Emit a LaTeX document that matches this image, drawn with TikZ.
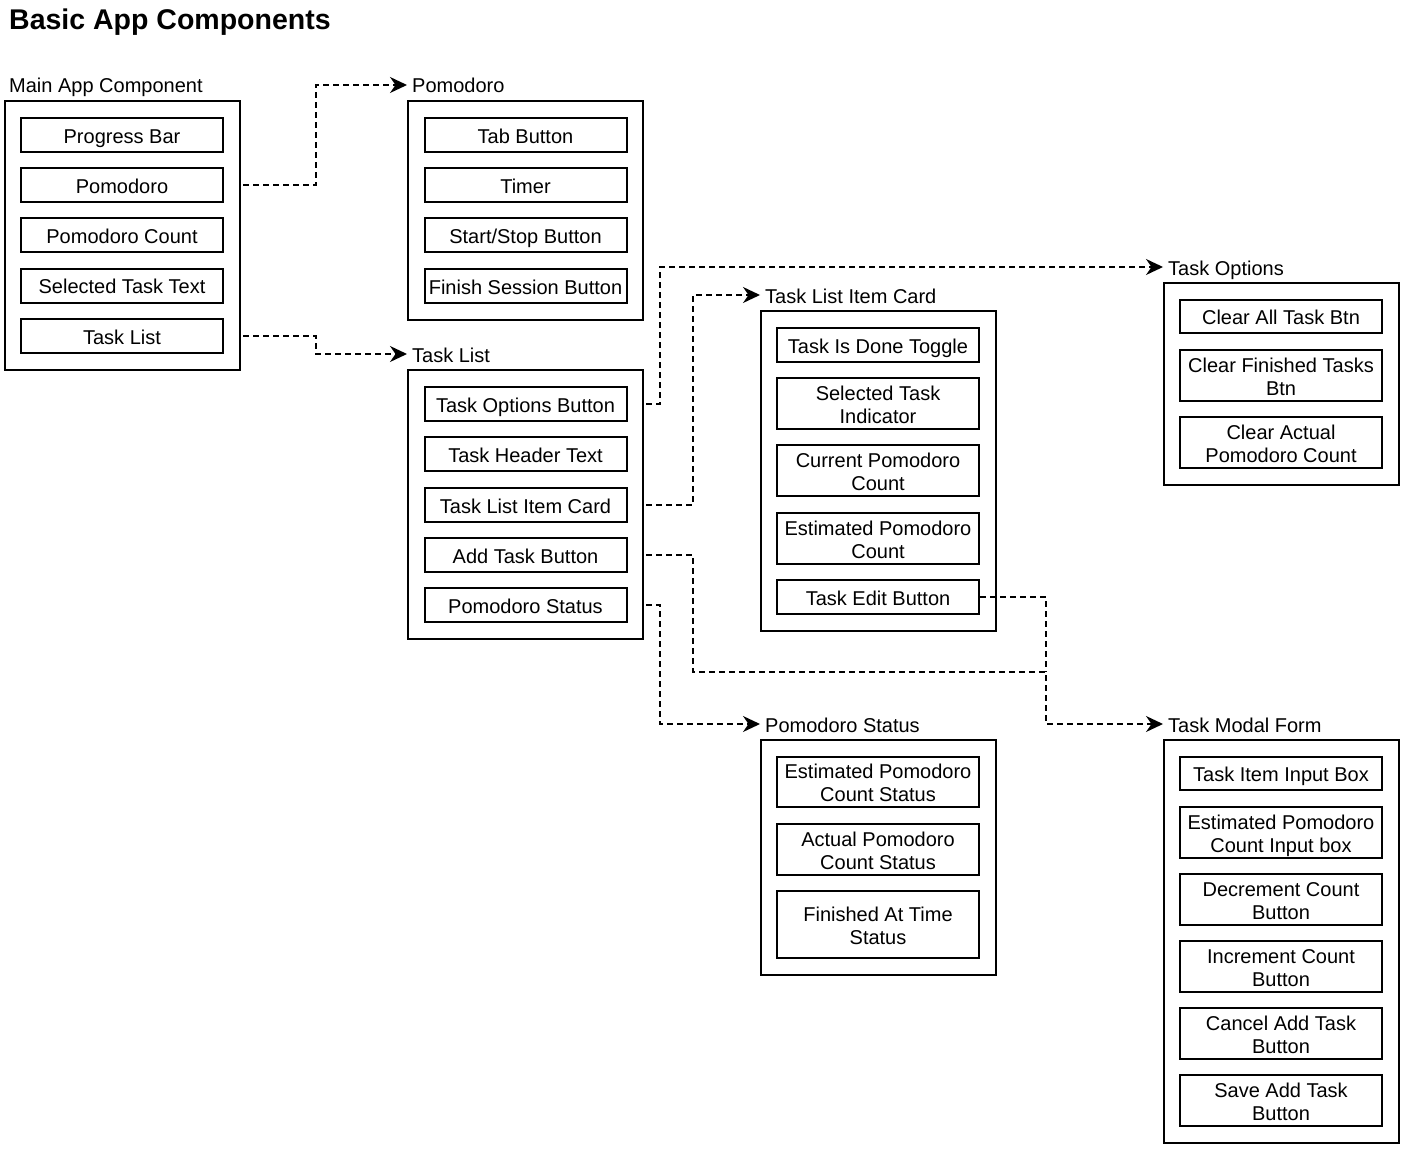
\documentclass[tikz,border=0pt]{standalone}
\usepackage{fontspec}
\setmainfont{Liberation Sans}
\usetikzlibrary{arrows.meta,calc}
% one text line with a fixed height and depth, so every box centres alike
\newcommand\tline[1]{\smash{#1}\rule[-1.5pt]{0pt}{19.5pt}}
\begin{document}
\begin{tikzpicture}[x=1pt,y=-1pt,
  every node/.style={font=\fontsize{20}{23}\selectfont},
  group/.style={draw, line width=2pt, minimum width=235pt, inner sep=0pt, outer sep=0pt},
  item/.style={draw, line width=2pt, minimum width=202pt, minimum height=34pt,
    inner sep=0pt, outer sep=0pt, align=center},
  grouplabel/.style={anchor=base west, inner sep=0pt},
  link/.style={dash pattern=on 6pt off 4pt, line width=1.5pt},
  linkarrow/.style={link, -{Stealth[length=17pt,width=16pt,inset=5.5pt]}}]
\useasboundingbox (0,0) rectangle (1407,1150);

% title
\node[anchor=base west, inner sep=0pt, font=\fontsize{28.5}{34}\selectfont\bfseries]
  (title) at (9,30) {Basic App Components};

% ---- Main App Component
\node[group, minimum height=269pt] (main) at (122.5,235.5) {};
\node[grouplabel] (mainLbl) at ($(main.north west)+(4,-8)$) {Main App Component};
\node[item] (mBar)  at (122,135)   {\tline{Progress Bar}};
\node[item] (mPom)  at (122,185)   {\tline{Pomodoro}};
\node[item] (mCnt)  at (122,235.5) {\tline{Pomodoro Count}};
\node[item] (mSel)  at (122,285.5) {\tline{Selected Task Text}};
\node[item] (mList) at (122,336)   {\tline{Task List}};

% ---- Pomodoro
\node[group, minimum height=219pt] (pom) at (525.5,210.5) {};
\node[grouplabel] (pomLbl) at ($(pom.north west)+(4,-8)$) {Pomodoro};
\node[item] (pTab)    at (525.5,135)   {\tline{Tab Button}};
\node[item] (pTimer)  at (525.5,185)   {\tline{Timer}};
\node[item] (pStart)  at (525.5,235.5) {\tline{Start/Stop Button}};
\node[item] (pFinish) at (525.5,286)   {\tline{Finish Session Button}};

% ---- Task List
\node[group, minimum height=269pt] (tl) at (525.5,504.5) {};
\node[grouplabel] (tlLbl) at ($(tl.north west)+(4,-8)$) {Task List};
\node[item] (tOpt)    at (525.5,404) {\tline{Task Options Button}};
\node[item] (tHead)   at (525.5,454) {\tline{Task Header Text}};
\node[item] (tCard)   at (525.5,505) {\tline{Task List Item Card}};
\node[item] (tAdd)    at (525.5,555) {\tline{Add Task Button}};
\node[item] (tStatus) at (525.5,605) {\tline{Pomodoro Status}};

% ---- Task List Item Card
\node[group, minimum height=320pt] (tlic) at (878.5,471) {};
\node[grouplabel] (tlicLbl) at ($(tlic.north west)+(4,-8)$) {Task List Item Card};
\node[item] (cDone) at (878,345) {\tline{Task Is Done Toggle}};
\node[item, minimum height=51pt] (cSel) at (878,403.5) {\tline{Selected Task}\\\tline{Indicator}};
\node[item, minimum height=51pt] (cCur) at (878,470.5) {\tline{Current Pomodoro}\\\tline{Count}};
\node[item, minimum height=51pt] (cEst) at (878,538.5) {\tline{Estimated Pomodoro}\\\tline{Count}};
\node[item] (tEdit) at (878,597) {\tline{Task Edit Button}};

% ---- Task Options
\node[group, minimum height=202pt] (to) at (1281.5,384) {};
\node[grouplabel] (toLbl) at ($(to.north west)+(4,-8)$) {Task Options};
\node[item, minimum height=33pt] (oAll) at (1281,316.5) {\tline{Clear All Task Btn}};
\node[item, minimum height=51pt] (oFin) at (1281,375.5) {\tline{Clear Finished Tasks}\\\tline{Btn}};
\node[item, minimum height=51pt] (oAct) at (1281,442.5) {\tline{Clear Actual}\\\tline{Pomodoro Count}};

% ---- Pomodoro Status
\node[group, minimum height=235pt] (ps) at (878.5,857.5) {};
\node[grouplabel] (psLbl) at ($(ps.north west)+(4,-8)$) {Pomodoro Status};
\node[item, minimum height=50pt] (sEst) at (878,782)   {\tline{Estimated Pomodoro}\\\tline{Count Status}};
\node[item, minimum height=51pt] (sAct) at (878,849.5) {\tline{Actual Pomodoro}\\\tline{Count Status}};
\node[item, minimum height=67pt] (sFin) at (878,924.5) {\tline{Finished At Time}\\\tline{Status}};

% ---- Task Modal Form
\node[group, minimum height=403pt] (tm) at (1281.5,941.5) {};
\node[grouplabel] (tmLbl) at ($(tm.north west)+(4,-8)$) {Task Modal Form};
\node[item, minimum height=33pt] (fItem) at (1281,773.5)  {\tline{Task Item Input Box}};
\node[item, minimum height=51pt] (fEst)  at (1281,832.5)  {\tline{Estimated Pomodoro}\\\tline{Count Input box}};
\node[item, minimum height=51pt] (fDec)  at (1281,899.5)  {\tline{Decrement Count}\\\tline{Button}};
\node[item, minimum height=51pt] (fInc)  at (1281,966.5)  {\tline{Increment Count}\\\tline{Button}};
\node[item, minimum height=51pt] (fCan)  at (1281,1033.5) {\tline{Cancel Add Task}\\\tline{Button}};
\node[item, minimum height=51pt] (fSave) at (1281,1100.5) {\tline{Save Add Task}\\\tline{Button}};

% entry points beside each group title
\coordinate (pomIn)  at ($(pom.north west)+(-1,-16)$);
\coordinate (tlIn)   at ($(tl.north west)+(-1,-16)$);
\coordinate (tlicIn) at ($(tlic.north west)+(-1,-16)$);
\coordinate (toIn)   at ($(to.north west)+(-1,-16)$);
\coordinate (psIn)   at ($(ps.north west)+(-1,-16)$);
\coordinate (tmIn)   at ($(tm.north west)+(-1,-16)$);
% where the edit-button line joins the add-task line
\coordinate (tmJoin) at ([xshift=-117pt]tmIn |- 0,672);

% ---- connectors
\draw[linkarrow] ($(main.east |- mPom.east)+(3,0)$) -| ([xshift=-91pt]pomIn) -- (pomIn);
\draw[linkarrow] ($(main.east |- mList.east)+(3,0)$) -| ([xshift=-91pt]tlIn) -- (tlIn);
\draw[linkarrow] ($(tl.east |- tOpt.east)+(3,0)$) -| ([xshift=-503pt]toIn) -- (toIn);
\draw[linkarrow] ($(tl.east |- tCard.east)+(3,0)$) -| ([xshift=-67pt]tlicIn) -- (tlicIn);
\draw[linkarrow] ($(tl.east |- tAdd.east)+(3,0)$) -| (693,672) -- (tmJoin) |- (tmIn);
\draw[linkarrow] ($(tl.east |- tStatus.east)+(3,0)$) -| ([xshift=-100pt]psIn) -- (psIn);
\draw[link] ($(tEdit.east)+(1,0)$) -| (tmJoin);
\end{tikzpicture}
\end{document}
